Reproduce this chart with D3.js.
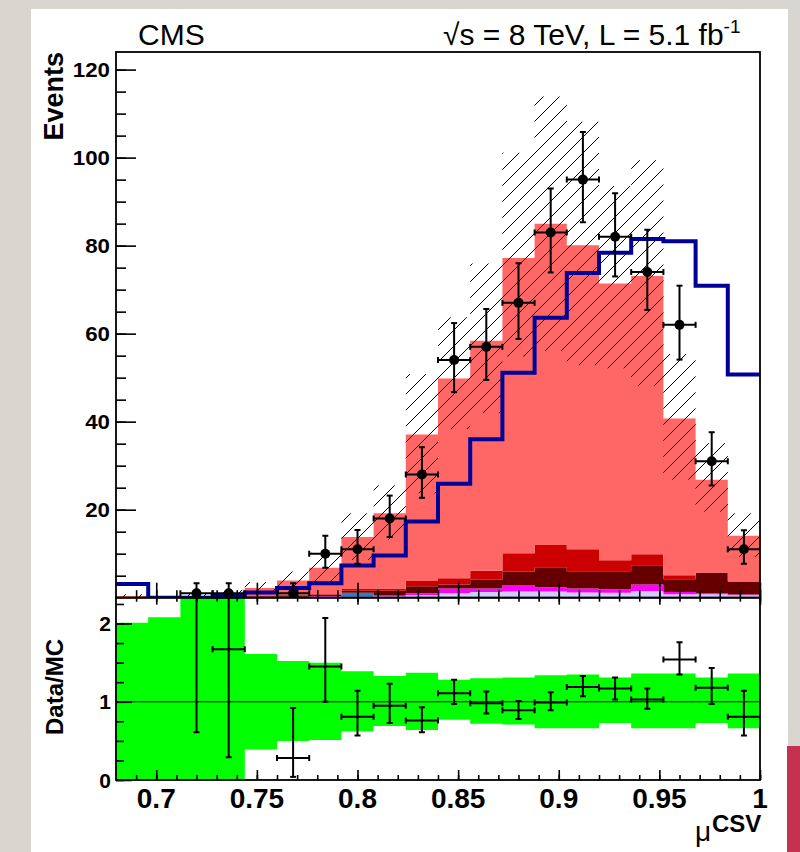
<!DOCTYPE html>
<html>
<head>
<meta charset="utf-8">
<script src="https://cdn.jsdelivr.net/npm/d3@7"></script>
<style>
  html, body { margin: 0; padding: 0; background: #d9d6d0; }
  svg { display: block; }
  text { font-family: "Liberation Sans", Arial, Helvetica, sans-serif; fill: #000; }
</style>
</head>
<body>
<div class="vis-cms"></div>
<script>
// ---- data ----
const binEdges = [0.680, 0.696, 0.712, 0.728, 0.744, 0.760, 0.776, 0.792, 0.808, 0.824, 0.840,
                  0.856, 0.872, 0.888, 0.904, 0.920, 0.936, 0.952, 0.968, 0.984, 1.000];

// stacked MC components (bottom to top)
const lavenderMC = [0, 0, 0, 0, 0.1, 0.1, 0.2, 0.2, 0.3, 0.6, 1.0, 1.3, 1.4, 1.4, 1.2, 1.1, 1.5, 0.8, 0.8, 0.55];
const magentaMC  = [0, 0, 0, 0, 0, 0.1, 0.2, 0, 0.3, 0.4, 1.1, 0.8, 1.5, 1.0, 0.9, 0.8, 1.5, 0.5, 0.2, 0.2];
const steelMC    = [0, 0, 0, 0, 0, 0, 0, 0.9, 0, 0, 0, 0, 0, 0, 0, 0, 0, 0, 0, 0];
const darkRedMC  = [0, 0, 0, 0, 0.1, 0.3, 0.2, 0.5, 1.0, 1.6, 0.9, 2.0, 3.0, 4.5, 3.9, 4.1, 4.4, 2.9, 4.6, 2.95];
const redMC      = [0.1, 0, 0, 0.1, 0.2, 0.2, 0.2, 0.4, 0.5, 1.2, 1.4, 2.0, 4.2, 5.1, 5.0, 2.5, 2.5, 0.9, 0.1, 0];
const salmonMC   = [0.3, 0.15, 0.35, 0.5, 1.8, 3.2, 6.0, 11.8, 17.1, 33.3, 45.4, 52.3, 67.1, 73.0, 69.1, 62.9, 63.2, 35.6, 21.1, 10.4];

// blue outline histogram
const blueLine = [3.1, 0, 0, 0.5, 1.2, 2.2, 3.3, 7.3, 9.6, 17.3, 25.9, 36.0, 51.1, 63.6, 73.8, 78.4, 81.5, 81.0, 70.9, 50.7];

// data with asymmetric errors
const dataCounts = [0, 0, 1, 1, 0, 1, 10, 11, 18, 28, 54, 57, 67, 83, 95, 82, 74, 62, 31, 11];
const dataErrUp  = [0, 0, 2.3, 2.3, 0, 2.3, 4.1, 4.4, 5.2, 6.2, 8.4, 8.6, 9.0, 10.0, 10.8, 9.9, 9.6, 8.9, 6.6, 4.3];
const dataErrDn  = [0, 0, 0.8, 0.8, 0, 0.8, 3.2, 3.3, 4.2, 5.3, 7.3, 7.5, 8.2, 9.1, 9.7, 9.0, 8.6, 7.9, 5.5, 3.3];

// ratio panel
const ratio     = [null, null, 2.9, 1.67, null, 0.28, 1.45, 0.81, 0.95, 0.76, 1.11, 0.98, 0.89, 0.99, 1.19, 1.17, 1.03, 1.54, 1.18, 0.81];
const ratioUp   = [null, null, 6.0, 6.0, null, 0.92, 2.07, 1.14, 1.23, 0.93, 1.28, 1.13, 1.01, 1.12, 1.33, 1.31, 1.17, 1.76, 1.43, 1.14];
const ratioDown = [null, null, 0.61, 0.29, null, 0.04, 1.0, 0.57, 0.73, 0.61, 0.97, 0.85, 0.78, 0.89, 1.07, 1.03, 0.91, 1.35, 0.97, 0.57];

// relative MC uncertainty band (green / hatched)
const bandHi = [2.01, 2.08, 3.0, 3.0, 1.61, 1.52, 1.50, 1.39, 1.33, 1.37, 1.28, 1.30, 1.31, 1.34, 1.35, 1.31, 1.36, 1.36, 1.31, 1.36];
const bandLo = [0, 0, 0, 0, 0.39, 0.50, 0.51, 0.62, 0.69, 0.64, 0.77, 0.72, 0.71, 0.66, 0.66, 0.73, 0.66, 0.66, 0.73, 0.66];

const xMajorTicks = [0.7, 0.75, 0.8, 0.85, 0.9, 0.95, 1.0];
const xTickLabels = ['0.7', '0.75', '0.8', '0.85', '0.9', '0.95', '1'];
const yMajorTicks = [20, 40, 60, 80, 100, 120];
const rMajorTicks = [0, 1, 2];

// ---- layout ----
const width = 800;
const height = 852;
const plot = { left: 116, right: 760, top: 52, mid: 597.7, bottom: 780 };

const svg = d3.select('.vis-cms').append('svg').attr('width', width).attr('height', height);

// slide background + white sheet
svg.append('rect').attr('width', width).attr('height', height).attr('fill', '#d9d6d0');
svg.append('rect').attr('x', 31).attr('y', 9).attr('width', 757).attr('height', height - 9).attr('fill', '#fff');
svg.append('rect').attr('x', 787).attr('y', 746).attr('width', 13).attr('height', 106).attr('fill', '#c4304e');

const xScale = d3.scaleLinear().domain([0.68, 1.0]).range([plot.left, plot.right]);
const yScale = d3.scaleLinear().domain([0, 124]).range([plot.mid, plot.top]);
const rScale = d3.scaleLinear().domain([0, 2.33]).range([plot.bottom, plot.mid]);

const defs = svg.append('defs');
defs.append('clipPath').attr('id', 'clip-up').append('rect')
    .attr('x', plot.left).attr('y', plot.top)
    .attr('width', plot.right - plot.left).attr('height', plot.mid - plot.top);
defs.append('clipPath').attr('id', 'clip-lo').append('rect')
    .attr('x', plot.left).attr('y', plot.mid)
    .attr('width', plot.right - plot.left).attr('height', plot.bottom - plot.mid);

// ROOT style 3004 hatch
const hs = 16;
defs.append('pattern').attr('id', 'hatch')
    .attr('patternUnits', 'userSpaceOnUse').attr('width', hs).attr('height', hs)
    .append('path')
    .attr('d', `M0,${hs} L${hs},0 M${-hs / 2},${hs / 2} L${hs / 2},${-hs / 2} M${hs / 2},${hs * 1.5} L${hs * 1.5},${hs / 2}`)
    .attr('stroke', '#000').attr('stroke-width', 1);

const keys = ['lavender', 'magenta', 'steel', 'darkRed', 'red', 'salmon'];
const colors = {
    lavender: '#ccccff', magenta: '#ff00ff', steel: '#2a7ccc',
    darkRed: '#660000', red: '#cc0000', salmon: '#ff6666'
};

const rows = binEdges.slice(0, -1).map((lo, i) => ({
    lo, hi: binEdges[i + 1],
    lavender: lavenderMC[i], magenta: magentaMC[i], steel: steelMC[i],
    darkRed: darkRedMC[i], red: redMC[i], salmon: salmonMC[i]
}));
const totals = rows.map(r => d3.sum(keys, k => r[k]));

// ---- upper pad ----
const up = svg.append('g').attr('clip-path', 'url(#clip-up)');

const stepArea = (scale) => d3.area()
    .x(p => xScale(p.x))
    .y0(p => scale(p.y0))
    .y1(p => scale(p.y1));

const layers = d3.stack().keys(keys)(rows);
up.selectAll('path.layer').data(layers)
    .enter().append('path')
    .attr('class', 'layer')
    .attr('fill', d => colors[d.key])
    .attr('d', d => stepArea(yScale)(d.flatMap(b => [
        { x: b.data.lo, y0: b[0], y1: b[1] },
        { x: b.data.hi, y0: b[0], y1: b[1] }
    ])));

// MC uncertainty hatch
up.append('path')
    .attr('fill', 'url(#hatch)')
    .attr('d', stepArea(yScale)(rows.flatMap((r, i) => [
        { x: r.lo, y0: totals[i] * bandLo[i], y1: totals[i] * bandHi[i] },
        { x: r.hi, y0: totals[i] * bandLo[i], y1: totals[i] * bandHi[i] }
    ])));

// blue histogram
const stepLine = d3.line().x(p => xScale(p.x)).y(p => yScale(p.y));
up.append('path')
    .attr('fill', 'none')
    .attr('stroke', '#000099')
    .attr('stroke-width', 4)
    .attr('d', stepLine(rows.flatMap((r, i) => [{ x: r.lo, y: blueLine[i] }, { x: r.hi, y: blueLine[i] }])));

// data points
const cap = 3;
const drawCross = (g, x0, x1, yv, yLo, yHi) => {
    const xc = (x0 + x1) / 2;
    const line = (a, b, c, d) => g.append('line')
        .attr('x1', a).attr('y1', b).attr('x2', c).attr('y2', d)
        .attr('stroke', '#000').attr('stroke-width', 2);
    line(x0, yv, x1, yv);
    line(x0, yv - cap, x0, yv + cap);
    line(x1, yv - cap, x1, yv + cap);
    line(xc, yLo, xc, yHi);
    line(xc - cap, yLo, xc + cap, yLo);
    line(xc - cap, yHi, xc + cap, yHi);
};

const pts = up.append('g');
rows.forEach((r, i) => {
    if (!dataCounts[i]) return;
    const cy = yScale(dataCounts[i]);
    drawCross(pts, xScale(r.lo), xScale(r.hi), cy,
        yScale(dataCounts[i] - dataErrDn[i]), yScale(dataCounts[i] + dataErrUp[i]));
    pts.append('circle').attr('cx', xScale((r.lo + r.hi) / 2)).attr('cy', cy).attr('r', 5).attr('fill', '#000');
});

// ---- lower pad ----
const lo = svg.append('g').attr('clip-path', 'url(#clip-lo)');

lo.append('path')
    .attr('fill', '#00ff00')
    .attr('d', stepArea(rScale)(rows.flatMap((r, i) => [
        { x: r.lo, y0: bandLo[i], y1: bandHi[i] },
        { x: r.hi, y0: bandLo[i], y1: bandHi[i] }
    ])));

lo.append('line')
    .attr('x1', plot.left).attr('x2', plot.right)
    .attr('y1', rScale(1)).attr('y2', rScale(1))
    .attr('stroke', '#000').attr('stroke-width', 1.2);

const rpts = lo.append('g');
rows.forEach((r, i) => {
    if (ratio[i] === null) return;
    drawCross(rpts, xScale(r.lo), xScale(r.hi), rScale(ratio[i]), rScale(ratioDown[i]), rScale(ratioUp[i]));
});

// ---- axes (ticks only, labels drawn below) ----
const styleAxis = (g) => {
    g.select('.domain').remove();
    g.selectAll('.tick text').remove();
    g.selectAll('.tick line').attr('stroke', '#000').attr('stroke-width', 1.6);
};

const xMinor = d3.range(69, 101).map(d => d / 100);

const tickAxis = (axis, transform) => svg.append('g')
    .attr('transform', transform)
    .call(axis)
    .call(styleAxis);

// upper pad
tickAxis(d3.axisLeft(yScale).tickValues(d3.range(5, 124, 5)).tickSize(-10), `translate(${plot.left},0)`);
tickAxis(d3.axisLeft(yScale).tickValues(yMajorTicks).tickSize(-20), `translate(${plot.left},0)`);
tickAxis(d3.axisBottom(xScale).tickValues(xMinor).tickSize(-7.5), `translate(0,${plot.mid})`);
tickAxis(d3.axisBottom(xScale).tickValues(xMajorTicks).tickSize(-15), `translate(0,${plot.mid})`);

// lower pad
tickAxis(d3.axisLeft(rScale).tickValues(d3.range(0, 2.3, 0.25)).tickSize(-8), `translate(${plot.left},0)`);
tickAxis(d3.axisLeft(rScale).tickValues(rMajorTicks).tickSize(-16), `translate(${plot.left},0)`);
tickAxis(d3.axisTop(xScale).tickValues(xMinor).tickSize(-4), `translate(0,${plot.mid})`);
tickAxis(d3.axisTop(xScale).tickValues(xMajorTicks).tickSize(-7), `translate(0,${plot.mid})`);
tickAxis(d3.axisBottom(xScale).tickValues(xMinor).tickSize(-5), `translate(0,${plot.bottom})`);
tickAxis(d3.axisBottom(xScale).tickValues(xMajorTicks).tickSize(-10), `translate(0,${plot.bottom})`);

// tick labels (digits in the original are a bit wider than Liberation Sans)
const digitW = 12.4;
const labels = svg.append('g').attr('font-weight', 'bold');
labels.selectAll('text.ylab').data(yMajorTicks)
    .enter().append('text')
    .attr('class', 'ylab')
    .attr('x', plot.left - 6)
    .attr('y', d => yScale(d) + 7.5)
    .attr('text-anchor', 'end')
    .attr('font-size', 21)
    .attr('textLength', d => String(d).length * digitW)
    .attr('lengthAdjust', 'spacingAndGlyphs')
    .text(d => d);
labels.selectAll('text.rlab').data(rMajorTicks)
    .enter().append('text')
    .attr('class', 'rlab')
    .attr('x', plot.left - 5)
    .attr('y', d => rScale(d) + 7.5)
    .attr('text-anchor', 'end')
    .attr('font-size', 21)
    .text(d => d);
labels.selectAll('text.xlab').data(xMajorTicks)
    .enter().append('text')
    .attr('class', 'xlab')
    .attr('x', d => xScale(d))
    .attr('y', 808)
    .attr('text-anchor', 'middle')
    .attr('font-size', 28)
    .text((d, i) => xTickLabels[i]);

// frames
const frame = svg.append('g').attr('fill', 'none').attr('stroke', '#000');
frame.append('rect')
    .attr('x', plot.left).attr('y', plot.top)
    .attr('width', plot.right - plot.left).attr('height', plot.mid - plot.top)
    .attr('stroke-width', 1.8);
frame.append('rect')
    .attr('x', plot.left).attr('y', plot.mid)
    .attr('width', plot.right - plot.left).attr('height', plot.bottom - plot.mid)
    .attr('stroke-width', 1.8);

// ---- titles ----
svg.append('text')
    .attr('transform', `translate(63,${plot.top}) rotate(-90)`)
    .attr('text-anchor', 'end')
    .style('font-weight', 'bold').style('font-size', '27px')
    .text('Events');

svg.append('text')
    .attr('transform', `translate(63,687) rotate(-90)`)
    .attr('text-anchor', 'middle')
    .style('font-weight', 'bold').style('font-size', '24px')
    .text('Data/MC');

svg.append('text')
    .attr('x', 138).attr('y', 45)
    .style('font-size', '30px')
    .text('CMS');

const lumi = svg.append('text')
    .attr('x', 443).attr('y', 45)
    .style('font-size', '30px');
lumi.append('tspan').text('√s = 8 TeV, L = 5.1 fb');
lumi.append('tspan').attr('dy', -12).style('font-size', '19px').text('-1');

const xTitle = svg.append('g');
xTitle.append('text').attr('x', 695).attr('y', 841).style('font-size', '28px').text('μ');
xTitle.append('text').attr('x', 712).attr('y', 832)
    .style('font-size', '24px').style('font-weight', 'bold').text('CSV');
</script>
</body>
</html>
